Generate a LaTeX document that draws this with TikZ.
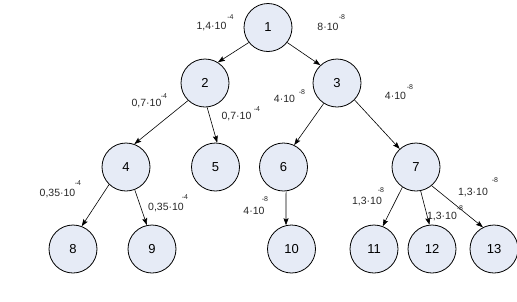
\documentclass[tikz,border=0pt]{standalone}
\usepackage{fontspec}
\setmainfont{Liberation Sans}
\usetikzlibrary{arrows.meta}
\definecolor{nodefill}{RGB}{230,235,246}
\tikzset{
  state/.style={circle, draw=black, line width=0.8pt, fill=nodefill, minimum size=48pt, inner sep=0pt, font=\fontsize{13}{13}\selectfont},
  edge/.style={line width=0.6pt, -{Stealth[length=7pt,width=5pt,inset=1.2pt]}},
  lab/.style={inner sep=0pt, text=black!85, font=\fontsize{10.5}{10.5}\selectfont},
  suplab/.style={inner sep=0pt, text=black!85, font=\fontsize{7}{7}\selectfont},
}
\begin{document}
\begin{tikzpicture}[x=1pt,y=-1pt]
\useasboundingbox (0,0) rectangle (517,301);
% nodes
\node[state] (n1) at (268,27.5) {1};
\node[state] (n2) at (205,83) {2};
\node[state] (n3) at (337,83) {3};
\node[state] (n4) at (126,167) {4};
\node[state] (n5) at (215.5,167) {5};
\node[state] (n6) at (283.5,167) {6};
\node[state] (n7) at (416,167) {7};
\node[state] (n8) at (73,249) {8};
\node[state] (n9) at (152,249) {9};
\node[state] (n10) at (291.5,249) {10};
\node[state] (n11) at (374,249) {11};
\node[state] (n12) at (432,249) {12};
\node[state] (n13) at (494,249) {13};
% edges
\draw[edge] (n1.218) -- (n2.58);
\draw[edge] (n1.322) -- (n3.133);
\draw[edge] (n2.226) -- (n4.70);
\draw[edge] (n2.275) -- (n5.86);
\draw[edge] (n3.237) -- (n6.64);
\draw[edge] (n3.316) -- (n7.132);
\draw[edge] (n4.226) -- (n8.69);
\draw[edge] (n4.291) -- (n9.102);
\draw[edge] (n6.276) -- (n10.103);
\draw[edge] (n7.236) -- (n11.69);
\draw[edge] (n7.281) -- (n12.96);
\draw[edge] (n7.310) -- (n13.117);
% labels
\node[lab] (l1) at (211.5,27) {1,4·10};
\node[suplab] (s1) at (230.5,17) {-4};
\node[lab] (l2) at (328,27) {8·10};
\node[suplab] (s2) at (342,17) {-8};
\node[lab] (l3) at (146.5,103) {0,7·10};
\node[suplab] (s3) at (164,96) {-4};
\node[lab] (l4) at (236.5,117) {0,7·10};
\node[suplab] (s4) at (257,109) {-4};
\node[lab] (l5) at (284.5,99) {4·10};
\node[suplab] (s5) at (302,92) {-8};
\node[lab] (l6) at (395.5,96) {4·10};
\node[suplab] (s6) at (410,87) {-8};
\node[lab] (l7) at (57.5,193) {0,35·10};
\node[suplab] (s7) at (78,183) {-4};
\node[lab] (l8) at (166,207) {0,35·10};
\node[suplab] (s8) at (185,197) {-4};
\node[lab] (l9) at (254,211) {4·10};
\node[suplab] (s9) at (265,199) {-8};
\node[lab] (l10) at (367,201) {1,3·10};
\node[suplab] (s10) at (381,190) {-8};
\node[lab] (l11) at (442,216) {1,3·10};
\node[suplab] (s11) at (460,208) {-8};
\node[lab] (l12) at (473,192) {1,3·10};
\node[suplab] (s12) at (495,180) {-8};
\end{tikzpicture}
\end{document}
